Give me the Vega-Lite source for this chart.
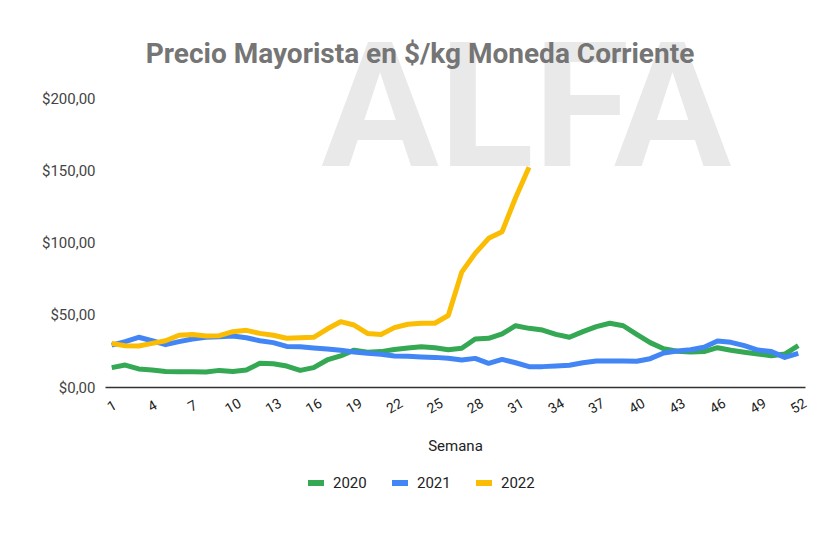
{
  "$schema": "https://vega.github.io/schema/vega-lite/v6.json",
  "width": 700,
  "height": 289,
  "autosize": {"type": "none"},
  "padding": {"left": 105, "top": 98, "right": 26, "bottom": 146},
  "background": "white",
  "title": {
    "text": "Precio Mayorista en $/kg Moneda Corriente",
    "font": "Roboto",
    "fontSize": 28,
    "fontWeight": "bold",
    "color": "#757575",
    "anchor": "middle",
    "frame": "group",
    "dx": -35,
    "offset": -43
  },
  "config": {
    "view": {"stroke": null},
    "font": "Roboto"
  },
  "layer": [
    {
      "data": {"values": [{"marca": "ALFA"}]},
      "mark": {"type": "text", "font": "Roboto", "fontWeight": "bold", "fontSize": 175, "color": "#e9e9e9", "align": "center", "baseline": "alphabetic"},
      "encoding": {
        "x": {"datum": 31.8, "type": "quantitative"},
        "y": {"datum": 153, "type": "quantitative"},
        "text": {"field": "marca"}
      }
    },
    {
      "data": {"values": [
        {"semana":1,"anio":"2020","precio":13.4},{"semana":2,"anio":"2020","precio":15.2},{"semana":3,"anio":"2020","precio":12.5},{"semana":4,"anio":"2020","precio":11.8},{"semana":5,"anio":"2020","precio":10.8},{"semana":6,"anio":"2020","precio":10.6},{"semana":7,"anio":"2020","precio":10.6},{"semana":8,"anio":"2020","precio":10.4},{"semana":9,"anio":"2020","precio":11.5},{"semana":10,"anio":"2020","precio":10.8},
        {"semana":11,"anio":"2020","precio":11.8},{"semana":12,"anio":"2020","precio":16.4},{"semana":13,"anio":"2020","precio":16.1},{"semana":14,"anio":"2020","precio":14.5},{"semana":15,"anio":"2020","precio":11.5},{"semana":16,"anio":"2020","precio":13.4},{"semana":17,"anio":"2020","precio":18.7},{"semana":18,"anio":"2020","precio":21.5},{"semana":19,"anio":"2020","precio":25.5},{"semana":20,"anio":"2020","precio":24},
        {"semana":21,"anio":"2020","precio":24.5},{"semana":22,"anio":"2020","precio":26},{"semana":23,"anio":"2020","precio":27},{"semana":24,"anio":"2020","precio":27.9},{"semana":25,"anio":"2020","precio":27.2},{"semana":26,"anio":"2020","precio":25.8},{"semana":27,"anio":"2020","precio":26.8},{"semana":28,"anio":"2020","precio":33.2},{"semana":29,"anio":"2020","precio":33.7},{"semana":30,"anio":"2020","precio":36.7},
        {"semana":31,"anio":"2020","precio":42.4},{"semana":32,"anio":"2020","precio":40.6},{"semana":33,"anio":"2020","precio":39.4},{"semana":34,"anio":"2020","precio":36.4},{"semana":35,"anio":"2020","precio":34.4},{"semana":36,"anio":"2020","precio":38.3},{"semana":37,"anio":"2020","precio":41.8},{"semana":38,"anio":"2020","precio":44.1},{"semana":39,"anio":"2020","precio":42.4},{"semana":40,"anio":"2020","precio":36.4},
        {"semana":41,"anio":"2020","precio":30.7},{"semana":42,"anio":"2020","precio":26.5},{"semana":43,"anio":"2020","precio":24.7},{"semana":44,"anio":"2020","precio":24.2},{"semana":45,"anio":"2020","precio":24.5},{"semana":46,"anio":"2020","precio":27.2},{"semana":47,"anio":"2020","precio":25.4},{"semana":48,"anio":"2020","precio":24},{"semana":49,"anio":"2020","precio":22.8},{"semana":50,"anio":"2020","precio":21.7},
        {"semana":51,"anio":"2020","precio":22.8},{"semana":52,"anio":"2020","precio":28.6},
        {"semana":1,"anio":"2021","precio":29},{"semana":2,"anio":"2021","precio":31.4},{"semana":3,"anio":"2021","precio":34.4},{"semana":4,"anio":"2021","precio":32},{"semana":5,"anio":"2021","precio":29.3},{"semana":6,"anio":"2021","precio":31.4},{"semana":7,"anio":"2021","precio":33.2},{"semana":8,"anio":"2021","precio":34.4},{"semana":9,"anio":"2021","precio":34.8},{"semana":10,"anio":"2021","precio":35.3},
        {"semana":11,"anio":"2021","precio":34.1},{"semana":12,"anio":"2021","precio":32},{"semana":13,"anio":"2021","precio":30.7},{"semana":14,"anio":"2021","precio":28.1},{"semana":15,"anio":"2021","precio":27.9},{"semana":16,"anio":"2021","precio":27},{"semana":17,"anio":"2021","precio":26.3},{"semana":18,"anio":"2021","precio":25.4},{"semana":19,"anio":"2021","precio":24.2},{"semana":20,"anio":"2021","precio":23.3},
        {"semana":21,"anio":"2021","precio":22.6},{"semana":22,"anio":"2021","precio":21.5},{"semana":23,"anio":"2021","precio":21.2},{"semana":24,"anio":"2021","precio":20.8},{"semana":25,"anio":"2021","precio":20.5},{"semana":26,"anio":"2021","precio":19.9},{"semana":27,"anio":"2021","precio":18.7},{"semana":28,"anio":"2021","precio":19.8},{"semana":29,"anio":"2021","precio":16.4},{"semana":30,"anio":"2021","precio":19.1},
        {"semana":31,"anio":"2021","precio":16.8},{"semana":32,"anio":"2021","precio":14.1},{"semana":33,"anio":"2021","precio":14.1},{"semana":34,"anio":"2021","precio":14.5},{"semana":35,"anio":"2021","precio":15},{"semana":36,"anio":"2021","precio":16.8},{"semana":37,"anio":"2021","precio":18},{"semana":38,"anio":"2021","precio":18},{"semana":39,"anio":"2021","precio":18},{"semana":40,"anio":"2021","precio":17.8},
        {"semana":41,"anio":"2021","precio":19.6},{"semana":42,"anio":"2021","precio":23.5},{"semana":43,"anio":"2021","precio":24.9},{"semana":44,"anio":"2021","precio":25.8},{"semana":45,"anio":"2021","precio":27.5},{"semana":46,"anio":"2021","precio":31.8},{"semana":47,"anio":"2021","precio":30.9},{"semana":48,"anio":"2021","precio":28.6},{"semana":49,"anio":"2021","precio":25.6},{"semana":50,"anio":"2021","precio":24.5},
        {"semana":51,"anio":"2021","precio":20.5},{"semana":52,"anio":"2021","precio":23.3},
        {"semana":1,"anio":"2022","precio":30.2},{"semana":2,"anio":"2022","precio":28.6},{"semana":3,"anio":"2022","precio":28.4},{"semana":4,"anio":"2022","precio":30.2},{"semana":5,"anio":"2022","precio":32},{"semana":6,"anio":"2022","precio":35.8},{"semana":7,"anio":"2022","precio":36.4},{"semana":8,"anio":"2022","precio":35.3},{"semana":9,"anio":"2022","precio":35.5},{"semana":10,"anio":"2022","precio":38.3},
        {"semana":11,"anio":"2022","precio":39.2},{"semana":12,"anio":"2022","precio":37.1},{"semana":13,"anio":"2022","precio":35.8},{"semana":14,"anio":"2022","precio":33.7},{"semana":15,"anio":"2022","precio":34.1},{"semana":16,"anio":"2022","precio":34.4},{"semana":17,"anio":"2022","precio":40.1},{"semana":18,"anio":"2022","precio":45.2},{"semana":19,"anio":"2022","precio":42.9},{"semana":20,"anio":"2022","precio":37.1},
        {"semana":21,"anio":"2022","precio":36.4},{"semana":22,"anio":"2022","precio":41.1},{"semana":23,"anio":"2022","precio":43.4},{"semana":24,"anio":"2022","precio":44.1},{"semana":25,"anio":"2022","precio":44.1},{"semana":26,"anio":"2022","precio":49.5},{"semana":27,"anio":"2022","precio":79.5},{"semana":28,"anio":"2022","precio":92.5},{"semana":29,"anio":"2022","precio":102.9},{"semana":30,"anio":"2022","precio":107.5},
        {"semana":31,"anio":"2022","precio":131},{"semana":32,"anio":"2022","precio":152}
      ]},
      "mark": {"type": "line", "strokeWidth": 5, "strokeJoin": "round", "strokeCap": "butt"},
      "encoding": {
        "x": {
          "field": "semana",
          "type": "quantitative",
          "scale": {"domain": [0.5, 52.5], "nice": false, "zero": false},
          "axis": {
            "title": "Semana",
            "values": [1,4,7,10,13,16,19,22,25,28,31,34,37,40,43,46,49,52],
            "labelAngle": -30,
            "labelAlign": "center",
            "labelBaseline": "middle",
            "labelPadding": 19,
            "labelFont": "Roboto",
            "labelFontSize": 14,
            "labelColor": "#222222",
            "ticks": false,
            "grid": false,
            "domainColor": "#333333",
            "domainWidth": 1.5,
            "titleFont": "Roboto",
            "titleFontSize": 15,
            "titleFontWeight": "normal",
            "titleColor": "#222222",
            "titlePadding": 23
          }
        },
        "y": {
          "field": "precio",
          "type": "quantitative",
          "scale": {"domain": [0, 200], "nice": false},
          "axis": {
            "title": null,
            "values": [0, 50, 100, 150, 200],
            "labelExpr": "'$' + replace(format(datum.value, '.2f'), '.', ',')",
            "labelFont": "Roboto",
            "labelFontSize": 15,
            "labelColor": "#444444",
            "labelPadding": 10,
            "ticks": false,
            "domain": false,
            "gridColor": "#cccccc",
            "gridWidth": 1
          }
        },
        "color": {
          "field": "anio",
          "type": "nominal",
          "scale": {"domain": ["2020", "2021", "2022"], "range": ["#34a853", "#4285f4", "#fbbc04"]},
          "legend": {
            "title": null,
            "orient": "none",
            "direction": "horizontal",
            "legendX": 200,
            "legendY": 374,
            "symbolType": "stroke",
            "symbolSize": 256,
            "symbolStrokeWidth": 6,
            "labelFont": "Roboto",
            "labelFontSize": 15,
            "labelColor": "#222222",
            "labelOffset": 6,
            "columnPadding": 13
          }
        }
      }
    }
  ]
}
